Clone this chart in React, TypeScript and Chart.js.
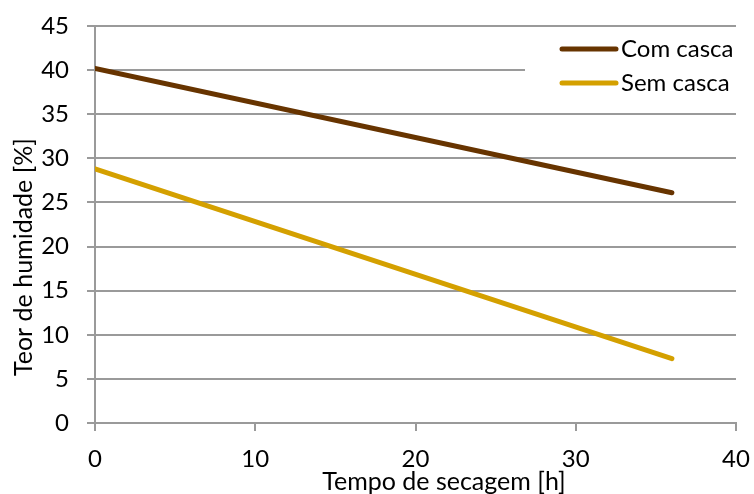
import React, { useEffect, useRef } from "react";
import { Chart, registerables } from "chart.js";

Chart.register(...registerables);

const hours = [0, 36];
const comCasca = [40.2, 26.1];
const semCasca = [28.8, 7.3];
const seriesNames = ["Com casca", "Sem casca"];
const seriesColors = ["#673400", "#D4A000"];
const xTitle = "Tempo de secagem [h]";
const yTitle = "Teor de humidade [%]";

const FONT = "Lato, 'Open Sans', sans-serif";
const GRID = "#9a9a9a";

export default function App() {
  const ref = useRef<HTMLCanvasElement | null>(null);

  useEffect(() => {
    document.body.style.margin = "0";
    const canvas = ref.current;
    if (!canvas) return;

    const overlay = {
      id: "overlay",
      afterDraw(chart: any) {
        const ctx = chart.ctx;
        ctx.save();
        // legend box
        ctx.fillStyle = "#ffffff";
        ctx.fillRect(525, 34, 230, 70);
        const items = chart.data.datasets;
        const rows = [49, 83];
        items.forEach((ds: any, i: number) => {
          ctx.strokeStyle = ds.borderColor;
          ctx.lineWidth = 5;
          ctx.lineCap = "round";
          ctx.beginPath();
          ctx.moveTo(562, rows[i]);
          ctx.lineTo(616, rows[i]);
          ctx.stroke();
          ctx.fillStyle = "#000";
          ctx.font = `24px ${FONT}`;
          ctx.textAlign = "left";
          ctx.textBaseline = "alphabetic";
          ctx.fillText(ds.label, 621, rows[i] + 8);
        });
        // axis titles
        ctx.fillStyle = "#000";
        ctx.font = `25px ${FONT}`;
        ctx.textAlign = "center";
        ctx.textBaseline = "alphabetic";
        ctx.fillText(xTitle, 444, 490);
        ctx.translate(32, 257);
        ctx.rotate(-Math.PI / 2);
        ctx.fillText(yTitle, 0, 0);
        ctx.restore();
      },
    };

    const chart = new Chart(canvas, {
      type: "line",
      data: {
        datasets: [
          {
            label: seriesNames[0],
            data: hours.map((h, i) => ({ x: h, y: comCasca[i] })),
            borderColor: seriesColors[0],
            backgroundColor: seriesColors[0],
            borderWidth: 5,
            borderCapStyle: "round",
            pointRadius: 0,
          },
          {
            label: seriesNames[1],
            data: hours.map((h, i) => ({ x: h, y: semCasca[i] })),
            borderColor: seriesColors[1],
            backgroundColor: seriesColors[1],
            borderWidth: 5,
            borderCapStyle: "round",
            pointRadius: 0,
          },
        ],
      },
      options: {
        responsive: false,
        animation: false,
        layout: { padding: { left: 0, right: 18, top: 26, bottom: 0 } },
        plugins: {
          legend: { display: false },
          tooltip: { enabled: false },
          title: { display: false },
        },
        scales: {
          x: {
            type: "linear",
            min: 0,
            max: 40,
            ticks: {
              stepSize: 10,
              color: "#000",
              font: { family: FONT, size: 24 },
              padding: 14,
              maxRotation: 0,
            },
            grid: {
              drawOnChartArea: false,
              drawTicks: true,
              tickLength: 8,
              color: GRID,
              lineWidth: 2,
            },
            border: { display: true, color: GRID, width: 2 },
            afterFit(scale: any) {
              scale.height = 71;
              scale.paddingLeft = 0;
              scale.paddingRight = 0;
            },
          },
          y: {
            type: "linear",
            min: 0,
            max: 45,
            ticks: {
              stepSize: 5,
              color: "#000",
              font: { family: FONT, size: 24 },
              padding: 18,
            },
            grid: {
              drawTicks: true,
              tickLength: 8,
              color: GRID,
              lineWidth: 2,
            },
            border: { display: true, color: GRID, width: 2 },
            afterFit(scale: any) {
              scale.width = 95;
              scale.paddingTop = 0;
              scale.paddingBottom = 0;
            },
          },
        },
      },
      plugins: [overlay],
    } as any);

    return () => chart.destroy();
  }, []);

  return (
    <canvas
      ref={ref}
      width={754}
      height={494}
      style={{ display: "block", width: "754px", height: "494px" }}
    />
  );
}
